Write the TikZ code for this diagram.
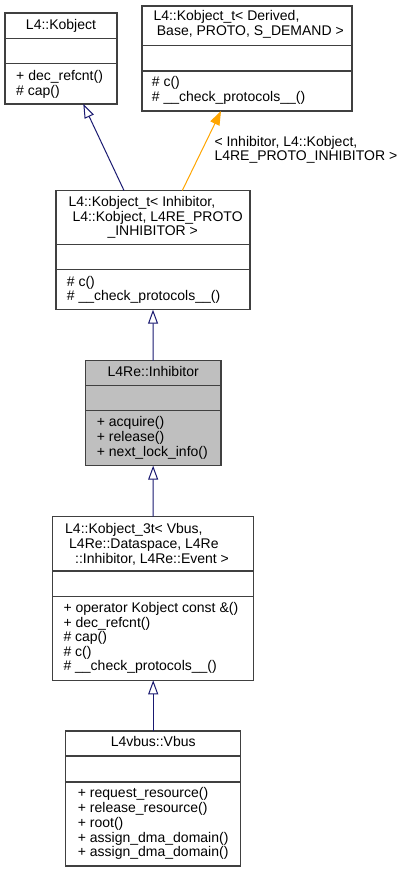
\documentclass[tikz,border=0pt]{standalone}
\usepackage{fontspec}
\setmainfont{Liberation Sans}
\usetikzlibrary{arrows.meta,calc}
\definecolor{edgenavy}{HTML}{191970}
\definecolor{edgeorange}{HTML}{FFA500}
\definecolor{boxline}{HTML}{404040}
\definecolor{boxgray}{HTML}{BFBFBF}
\begin{document}
\begin{tikzpicture}[x=1pt,y=-1pt,
  box/.style={draw=boxline, line width=1.1pt, inner sep=0pt, outer sep=0pt, anchor=north west},
  divider/.style={draw=boxline, line width=1.1pt},
  txt/.style={inner sep=0pt, anchor=base west, font=\fontsize{14}{15}\selectfont},
  ctxt/.style={inner sep=0pt, anchor=base, font=\fontsize{14}{15}\selectfont},
  inh/.style={draw=edgenavy, line width=1pt, -{Triangle[open, length=14pt, width=10pt, line width=1pt]}},
  tmpl/.style={draw=edgeorange, line width=1pt, -{Triangle[length=14pt, width=10pt, fill=edgeorange]}}
]
\useasboundingbox (0,0) rectangle (404,872);

% Box A : L4::Kobject
\node[box, minimum width=112pt, minimum height=91pt] (A) at (5,13) {};
\draw[divider] (5,38.7) -- (117,38.7);
\draw[divider] (5,63.7) -- (117,63.7);
\node[ctxt] (Atitle) at (61,29.3) {L4::Kobject};
\node[txt] (Am1) at (16,81) {+ dec\_refcnt()};
\node[txt] (Am2) at (16,95.5) {\# cap()};

% Box B : L4::Kobject_t< Derived, ...>
\node[box, minimum width=210pt, minimum height=105pt] (B) at (142,6) {};
\draw[divider] (142,45.7) -- (352,45.7);
\draw[divider] (142,71) -- (352,71);
\node[txt] (Bt1) at (153.3,20.5) {L4::Kobject\_t< Derived,};
\node[txt] (Bt2) at (156.7,36) {Base, PROTO, S\_DEMAND >};
\node[txt] (Bm1) at (151.7,87) {\# c()};
\node[txt] (Bm2) at (151.7,102) {\# \_\_check\_protocols\_\_()};

% Box C : L4::Kobject_t< Inhibitor, ...>
\node[box, minimum width=194pt, minimum height=119.2pt] (C) at (56,190.5) {};
\draw[divider] (56,244.3) -- (250,244.3);
\draw[divider] (56,269.7) -- (250,269.7);
\node[txt] (Ct1) at (68.3,206) {L4::Kobject\_t< Inhibitor,};
\node[txt] (Ct2) at (72.3,221) {L4::Kobject, L4RE\_PROTO};
\node[txt] (Ct3) at (107.3,235.5) {\_INHIBITOR >};
\node[txt] (Cm1) at (66.7,286.5) {\# c()};
\node[txt] (Cm2) at (66.7,300.5) {\# \_\_check\_protocols\_\_()};

% Box D : L4Re::Inhibitor
\node[box, fill=boxgray, minimum width=135.7pt, minimum height=105pt] (D) at (85.3,360.7) {};
\draw[divider] (85.3,385.7) -- (221,385.7);
\draw[divider] (85.3,410.7) -- (221,410.7);
\node[ctxt] (Dtitle) at (153.2,376.7) {L4Re::Inhibitor};
\node[txt] (Dm1) at (96.7,426.7) {+ acquire()};
\node[txt] (Dm2) at (96.7,441.7) {+ release()};
\node[txt] (Dm3) at (96.7,456.7) {+ next\_lock\_info()};

% Box E : L4::Kobject_3t< ...>
\node[box, minimum width=201pt, minimum height=163.6pt] (E) at (52.7,516.7) {};
\draw[divider] (52.7,571) -- (253.7,571);
\draw[divider] (52.7,596.7) -- (253.7,596.7);
\node[txt] (Et1) at (65,533.3) {L4::Kobject\_3t< Vbus,};
\node[txt] (Et2) at (69,548.3) {L4Re::Dataspace, L4Re};
\node[txt] (Et3) at (75,563.3) {::Inhibitor, L4Re::Event >};
\node[txt] (Em1) at (63.3,612.3) {+ operator Kobject const \&()};
\node[txt] (Em2) at (63.3,627) {+ dec\_refcnt()};
\node[txt] (Em3) at (63.3,641.7) {\# cap()};
\node[txt] (Em4) at (63.3,656.3) {\# c()};
\node[txt] (Em5) at (63.3,670.7) {\# \_\_check\_protocols\_\_()};

% Box F : L4vbus::Vbus
\node[box, minimum width=175pt, minimum height=135pt] (F) at (65.7,731) {};
\draw[divider] (65.7,756) -- (240.7,756);
\draw[divider] (65.7,782) -- (240.7,782);
\node[ctxt] (Ftitle) at (153.2,746.7) {L4vbus::Vbus};
\node[txt] (Fm1) at (77.7,797.7) {+ request\_resource()};
\node[txt] (Fm2) at (77.7,812.5) {+ release\_resource()};
\node[txt] (Fm3) at (77.7,827.2) {+ root()};
\node[txt] (Fm4) at (77.7,842) {+ assign\_dma\_domain()};
\node[txt] (Fm5) at (77.7,856.7) {+ assign\_dma\_domain()};

% Connectors
\draw[inh] ($(C.north west)+(68,0)$) -- ($(A.south west)+(78.3,0)$);
\draw[tmpl] ($(C.north west)+(126.3,0)$) -- ($(B.south west)+(79,0)$);
\node[txt] (L1) at (214.3,146.7) {< Inhibitor, L4::Kobject,};
\node[txt] (L2) at (214.3,160.7) {L4RE\_PROTO\_INHIBITOR >};
\draw[inh] (D.north) -- (C.south);
\draw[inh] (E.north) -- (D.south);
\draw[inh] (F.north) -- (E.south);
\end{tikzpicture}
\end{document}
